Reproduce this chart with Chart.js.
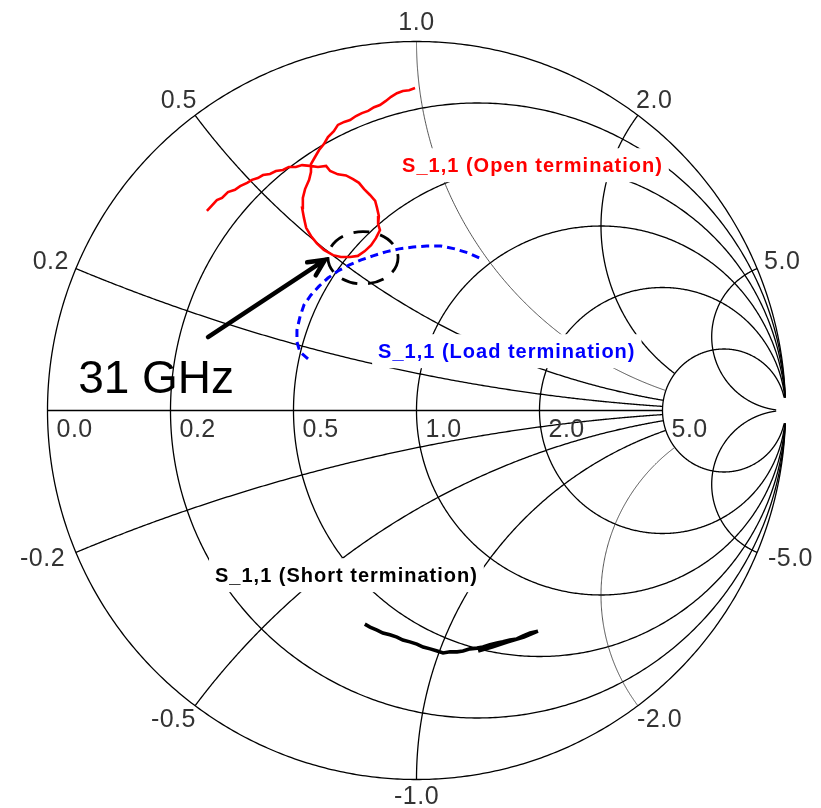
<!DOCTYPE html>
<html>
<head>
<meta charset="utf-8">
<script src="https://cdn.jsdelivr.net/npm/chart.js@4"></script>
<style>
  html, body { margin: 0; padding: 0; background: #fff; }
  canvas { display: block; }
</style>
</head>
<body>
<canvas id="smith" width="821" height="808"></canvas>
<script>
// normalized resistance / reactance values of the grid and its labels
const resistanceTicks = [0, 0.2, 0.5, 1, 2, 5];
const reactanceTicks = [0.2, 0.5, 1, 2, 5, -0.2, -0.5, -1, -2, -5];
const thinReactance = [1, -2];

// measured S11, [re, im] of the reflection coefficient
const openS11 = [
  [-0.568, 0.541], [-0.556, 0.554], [-0.541, 0.570], [-0.527, 0.576], [-0.511, 0.592],
  [-0.492, 0.598], [-0.478, 0.608], [-0.459, 0.617], [-0.446, 0.625], [-0.430, 0.630],
  [-0.416, 0.638], [-0.397, 0.641], [-0.381, 0.649], [-0.362, 0.652], [-0.346, 0.660],
  [-0.327, 0.660], [-0.310, 0.665], [-0.289, 0.663], [-0.267, 0.660], [-0.245, 0.663],
  [-0.234, 0.649], [-0.213, 0.640], [-0.191, 0.637], [-0.172, 0.627], [-0.156, 0.617],
  [-0.142, 0.600], [-0.126, 0.584], [-0.112, 0.568], [-0.107, 0.549], [-0.102, 0.527],
  [-0.104, 0.505], [-0.099, 0.489], [-0.110, 0.467], [-0.123, 0.448], [-0.140, 0.432],
  [-0.159, 0.419], [-0.180, 0.416], [-0.205, 0.416], [-0.226, 0.421], [-0.251, 0.435],
  [-0.270, 0.453], [-0.286, 0.473], [-0.299, 0.495], [-0.305, 0.522], [-0.310, 0.549],
  [-0.308, 0.576], [-0.302, 0.600], [-0.291, 0.625], [-0.286, 0.646], [-0.286, 0.668],
  [-0.275, 0.687], [-0.264, 0.706], [-0.251, 0.722], [-0.240, 0.741], [-0.224, 0.757],
  [-0.213, 0.774], [-0.196, 0.782], [-0.180, 0.787], [-0.164, 0.798], [-0.148, 0.806],
  [-0.131, 0.812], [-0.115, 0.822], [-0.099, 0.828], [-0.083, 0.839], [-0.069, 0.850],
  [-0.053, 0.860], [-0.037, 0.866], [-0.020, 0.868], [-0.004, 0.874]
];
const loadS11 = [
  [-0.294, 0.140], [-0.316, 0.159], [-0.324, 0.186], [-0.324, 0.218], [-0.316, 0.253],
  [-0.305, 0.286], [-0.286, 0.313], [-0.264, 0.337], [-0.240, 0.359], [-0.213, 0.378],
  [-0.183, 0.394], [-0.150, 0.408], [-0.118, 0.419], [-0.083, 0.430], [-0.047, 0.438],
  [-0.009, 0.443], [0.028, 0.446], [0.066, 0.446], [0.104, 0.438], [0.140, 0.427],
  [0.175, 0.411]
];
const shortS11 = [
  [-0.140, -0.579], [-0.126, -0.587], [-0.107, -0.595], [-0.091, -0.603], [-0.072, -0.608],
  [-0.053, -0.614], [-0.037, -0.622], [-0.018, -0.627], [0.001, -0.633], [0.018, -0.641],
  [0.037, -0.646], [0.056, -0.652], [0.072, -0.657], [0.091, -0.654], [0.110, -0.654],
  [0.126, -0.652], [0.145, -0.646], [0.164, -0.644], [0.180, -0.641], [0.199, -0.635],
  [0.218, -0.630], [0.234, -0.627], [0.253, -0.622], [0.272, -0.619], [0.289, -0.611],
  [0.308, -0.603], [0.329, -0.598], [0.291, -0.614], [0.248, -0.627], [0.205, -0.641],
  [0.167, -0.652]
];

const seriesNames = ['S_1,1 (Open termination)', 'S_1,1 (Load termination)', 'S_1,1 (Short termination)'];
const seriesColors = ['#ff0000', '#0000ff', '#000000'];
// left edge of each trace name, in reflection-coefficient units
const seriesLabelAt = [[-0.039, 0.662], [-0.104, 0.158], [-0.546, -0.449]];

// 31 GHz marker
const markerText = '31 GHz';
const markerTextAt = [-0.917, 0.047];
const arrowFrom = [-0.565, 0.199];
const arrowTo = [-0.248, 0.408];
const ringCenter = [-0.145, 0.414];
const ringRadii = [0.095, 0.071];

// z = r + jx  ->  gamma = (z - 1) / (z + 1)
function gammaOf(r, x) {
  const den = (r + 1) * (r + 1) + x * x;
  return [(r * r + x * x - 1) / den, 2 * x / den];
}

const toXY = arr => arr.map(p => ({ x: p[0], y: p[1] }));

const smithGrid = {
  id: 'smithGrid',
  beforeDatasetsDraw(chart) {
    const ctx = chart.ctx;
    const sx = chart.scales.x, sy = chart.scales.y;
    const P = g => [sx.getPixelForValue(g[0]), sy.getPixelForValue(g[1])];
    const path = pts => {
      ctx.beginPath();
      pts.forEach((g, i) => {
        const p = P(g);
        if (i) ctx.lineTo(p[0], p[1]); else ctx.moveTo(p[0], p[1]);
      });
      ctx.stroke();
    };
    ctx.save();
    ctx.strokeStyle = '#000';
    ctx.lineWidth = 1.3;

    // resistance circles, left open right at the open-circuit point
    resistanceTicks.forEach(r => {
      const c = r / (1 + r), R = 1 / (1 + r);
      const t0 = 2 * Math.asin(Math.min(1, 0.0175 / R));
      const pts = [];
      for (let i = 0; i <= 720; i++) {
        const t = t0 + (2 * Math.PI - 2 * t0) * i / 720;
        pts.push([c + R * Math.cos(t), R * Math.sin(t)]);
      }
      path(pts);
    });

    // real axis, stops at r = 5
    path([gammaOf(0, 0), gammaOf(5, 0)]);

    // reactance arcs; only |x| = 5 runs past the r = 5 circle
    reactanceTicks.forEach(x => {
      const rMax = Math.abs(x) >= 5 ? 78 : 5;
      const pts = [];
      for (let i = 0; i <= 400; i++) pts.push(gammaOf(rMax * Math.pow(i / 400, 3), x));
      const thin = thinReactance.includes(x);
      ctx.lineWidth = thin ? 0.8 : 1.3;
      ctx.strokeStyle = thin ? '#2a2a2a' : '#000';
      path(pts);
    });
    ctx.lineWidth = 1.3;
    ctx.strokeStyle = '#000';

    // tick labels
    ctx.fillStyle = '#333';
    ctx.font = '25px "Liberation Sans", Arial, sans-serif';
    ctx.letterSpacing = '0.5px';
    ctx.textBaseline = 'middle';
    ctx.textAlign = 'left';
    resistanceTicks.forEach(r => {
      const p = P(gammaOf(r, 0));
      ctx.fillText(r.toFixed(1), p[0] + 9, p[1] + 20);
    });
    ctx.textAlign = 'center';
    reactanceTicks.forEach(x => {
      const g = gammaOf(0, x);
      const p = P(g);
      const dx = g[0], dy = -g[1];
      const hw = ctx.measureText(Math.abs(x).toFixed(1)).width / 2;
      const extra = x < 0 ? 9 : 0;
      ctx.fillText(x.toFixed(1), p[0] + dx * (9 + hw + extra), p[1] + dy * 18);
    });

    // trace names on white boxes
    ctx.font = 'bold 20px "Liberation Sans", Arial, sans-serif';
    ctx.letterSpacing = '1px';
    ctx.textAlign = 'left';
    seriesNames.forEach((name, i) => {
      const p = P(seriesLabelAt[i]);
      const w = ctx.measureText(name).width;
      ctx.fillStyle = '#fff';
      ctx.fillRect(p[0] - 6, p[1] - 18, w + 12, 34);
      ctx.fillStyle = seriesColors[i];
      ctx.fillText(name, p[0], p[1]);
    });
    ctx.letterSpacing = '0px';
    ctx.restore();
  },
  afterDatasetsDraw(chart) {
    const ctx = chart.ctx;
    const sx = chart.scales.x, sy = chart.scales.y;
    const P = g => [sx.getPixelForValue(g[0]), sy.getPixelForValue(g[1])];
    ctx.save();

    // dashed ring around the 31 GHz point
    const c = P(ringCenter);
    const rx = sx.getPixelForValue(ringRadii[0]) - sx.getPixelForValue(0);
    const ry = sy.getPixelForValue(0) - sy.getPixelForValue(ringRadii[1]);
    ctx.strokeStyle = '#000';
    ctx.lineWidth = 2.8;
    ctx.setLineDash([16, 11]);
    ctx.beginPath();
    ctx.ellipse(c[0], c[1], rx, ry, 0, 0, 2 * Math.PI);
    ctx.stroke();
    ctx.setLineDash([]);

    // arrow
    const a = P(arrowFrom), b = P(arrowTo);
    const ang = Math.atan2(b[1] - a[1], b[0] - a[0]);
    ctx.lineWidth = 4.5;
    ctx.lineCap = 'round';
    ctx.beginPath();
    ctx.moveTo(a[0], a[1]);
    ctx.lineTo(b[0], b[1]);
    ctx.moveTo(b[0] - 18 * Math.cos(ang - 0.45), b[1] - 18 * Math.sin(ang - 0.45));
    ctx.lineTo(b[0], b[1]);
    ctx.lineTo(b[0] - 18 * Math.cos(ang + 0.45), b[1] - 18 * Math.sin(ang + 0.45));
    ctx.stroke();

    const t = P(markerTextAt);
    ctx.fillStyle = '#000';
    ctx.font = '46px "Liberation Sans", Arial, sans-serif';
    ctx.textAlign = 'left';
    ctx.textBaseline = 'alphabetic';
    ctx.fillText(markerText, t[0], t[1]);
    ctx.restore();
  }
};

new Chart(document.getElementById('smith'), {
  type: 'scatter',
  data: {
    datasets: [
      { label: seriesNames[0], data: toXY(openS11), borderColor: seriesColors[0], borderWidth: 2.6 },
      { label: seriesNames[1], data: toXY(loadS11), borderColor: seriesColors[1], borderWidth: 3, borderDash: [8, 5] },
      { label: seriesNames[2], data: toXY(shortS11), borderColor: seriesColors[2], borderWidth: 3.6 }
    ].map(d => Object.assign(d, { showLine: true, pointRadius: 0, tension: 0, fill: false, clip: false }))
  },
  options: {
    responsive: false,
    animation: false,
    layout: { padding: { left: 47.5, right: 35.5, top: 41.5, bottom: 28.5 } },
    scales: {
      x: { type: 'linear', min: -1, max: 1, display: false },
      y: { type: 'linear', min: -1, max: 1, display: false }
    },
    plugins: { legend: { display: false }, tooltip: { enabled: false } }
  },
  plugins: [smithGrid]
});
</script>
</body>
</html>
